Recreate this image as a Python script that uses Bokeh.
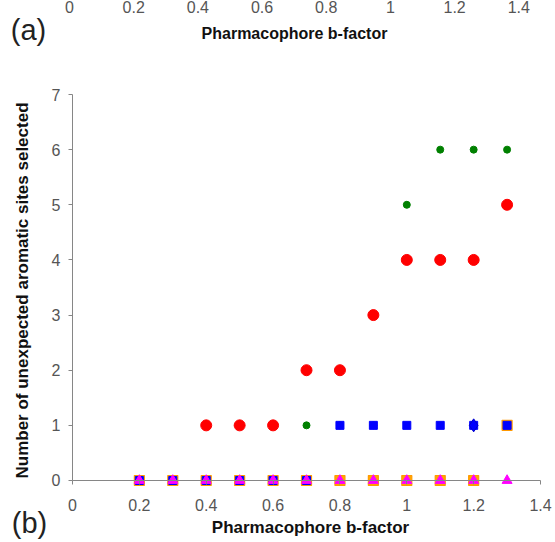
import numpy as np
from bokeh.plotting import figure
from bokeh.models import Label, FixedTicker, Range1d
from bokeh.embed import file_html
from bokeh.resources import INLINE

# ---- data ----
b_factor = [0.2, 0.3, 0.4, 0.5, 0.6, 0.7, 0.8, 0.9, 1.0, 1.1, 1.2, 1.3]
red_vals = [np.nan, np.nan, 1, 1, 1, 2, 2, 3, 4, 4, 4, 5]
green_vals = [0, 0, 0, 0, 0, 1, 1, 1, 5, 6, 6, 6]
blue_vals = [0, 0, 0, 0, 0, 0, 1, 1, 1, 1, 1, 1]
orange_vals = [0, 0, 0, 0, 0, 0, 0, 0, 0, 0, 0, 1]
magenta_vals = [0, 0, 0, 0, 0, 0, 0, 0, 0, 0, 0, 0]
diamond_vals = [np.nan] * 10 + [1, np.nan]
plus_vals = [np.nan] * 11 + [1]

x_ticks = [0, 0.2, 0.4, 0.6, 0.8, 1.0, 1.2, 1.4]
x_tick_labels = ["0", "0.2", "0.4", "0.6", "0.8", "1", "1.2", "1.4"]
y_ticks = [0, 1, 2, 3, 4, 5, 6, 7]

x_title = "Pharmacophore b-factor"
y_title = "Number of unexpected aromatic sites selected"

FONT = "Liberation Sans"
TICK_COLOR = "#555555"
AXIS_COLOR = "#868686"

# frame covers the whole canvas; axes are pinned at x=0 and y=0
p = figure(width=555, height=542, x_range=Range1d(-0.21537, 1.44481), y_range=Range1d(-1.1244, 8.705),
           output_backend="svg", toolbar_location=None,
           min_border_left=0, min_border_right=0, min_border_top=0, min_border_bottom=0)
p.outline_line_color = None
p.xgrid.visible = False
p.ygrid.visible = False
p.background_fill_color = "white"

xa = p.xaxis[0]
xa.ticker = FixedTicker(ticks=x_ticks)
xa.major_label_overrides = {t: l for t, l in zip(x_ticks, x_tick_labels)}
xa.bounds = (0, 1.4)
xa.fixed_location = 0
ya = p.yaxis[0]
ya.ticker = FixedTicker(ticks=y_ticks)
ya.bounds = (0, 7)
ya.fixed_location = 0
for ax in (xa, ya):
    ax.axis_line_color = AXIS_COLOR
    ax.major_tick_line_color = AXIS_COLOR
    ax.minor_tick_line_color = None
    ax.major_tick_out = 4
    ax.major_tick_in = 0
    ax.major_label_text_font = FONT
    ax.major_label_text_font_size = "16px"
    ax.major_label_text_color = TICK_COLOR
xa.major_label_standoff = 15
ya.major_label_standoff = 8

# series
p.scatter(b_factor, red_vals, marker="circle", size=11, fill_color="#FF0000", line_color="#FF0000")
p.scatter(b_factor, green_vals, marker="circle", size=7, fill_color="#008000", line_color="#008000")
p.scatter(b_factor, plus_vals, marker="asterisk", size=9, line_color="#333366", line_width=1.2)
p.scatter(b_factor, orange_vals, marker="square", size=10, fill_color="#FFA500", line_color="#FF9900", line_width=1.2)
p.scatter(b_factor, blue_vals, marker="square", size=8, fill_color="#0000FF", line_color="#0000FF")
p.scatter(b_factor, diamond_vals, marker="diamond", size=13, fill_color="#0000FF", line_color="#0000CC")
p.scatter(b_factor, magenta_vals, marker="triangle", size=10, fill_color="#FF00FF", line_color="#FF00FF")


def lab(x, y, text, size, bold=False, angle=0.0, color="#111111", baseline="middle"):
    p.add_layout(Label(x=x, y=y, text=text,
                       text_font=FONT, text_font_size=size,
                       text_font_style="bold" if bold else "normal",
                       text_align="center", text_baseline=baseline,
                       angle=angle, text_color=color))


# axis titles and panel letter
lab(0.712, -0.86, x_title, "17px", bold=True)
lab(-0.1496, 3.446, y_title, "17px", bold=True, angle=np.pi / 2)
lab(-0.1286, -0.77, "(b)", "29px", color="#222222")

# remnant of panel (a) above
a_scale, a_offset = 0.960, -0.009
for t, l in zip(x_ticks, x_tick_labels):
    lab(a_offset + t * a_scale, 8.70, l, "16px", color=TICK_COLOR, baseline="top")
lab(-0.1316, 8.161, "(a)", "29px", color="#222222")
lab(0.664, 8.107, x_title, "16px", bold=True)

open("out.html", "w").write(file_html(p, INLINE))
